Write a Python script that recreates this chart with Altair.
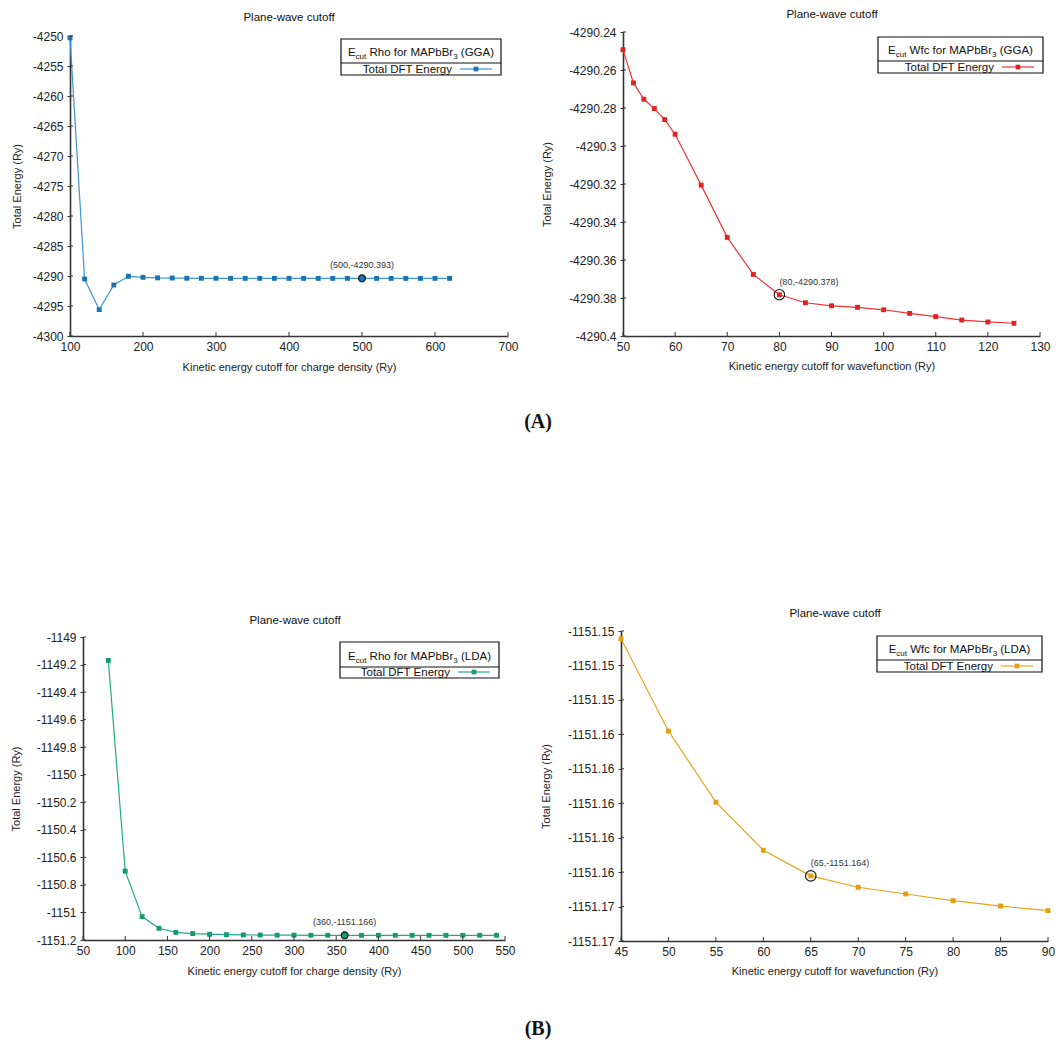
import altair as alt
import pandas as pd

W, H = 1064, 1042
SANS = "Liberation Sans"
SERIF = "Liberation Serif"
FS = 11.5      # titles and legend text
TICK_FS = 12   # tick labels
AXT_FS = 11    # axis titles
SUB = 8
INK = "#222222"
AXIS_INK = "#333333"

# ---------------- data ----------------
# GGA: charge-density cutoff scan
rho_gga_cut = [100, 120, 140, 160, 180, 200, 220, 240, 260, 280, 300, 320, 340, 360,
               380, 400, 420, 440, 460, 480, 500, 520, 540, 560, 580, 600, 620]
rho_gga_energy = [-4250.3, -4290.5, -4295.6, -4291.5, -4290.05, -4290.22, -4290.31,
                  -4290.34, -4290.37, -4290.38, -4290.385, -4290.388, -4290.390,
                  -4290.391, -4290.392, -4290.392, -4290.393, -4290.393, -4290.393,
                  -4290.393, -4290.393, -4290.393, -4290.393, -4290.393, -4290.393,
                  -4290.393, -4290.393]

# GGA: wavefunction cutoff scan
wfc_gga_cut = [50, 52, 54, 56, 58, 60, 65, 70, 75, 80, 85, 90, 95, 100, 105, 110, 115, 120, 125]
wfc_gga_energy = [-4290.2493, -4290.2668, -4290.2754, -4290.2803, -4290.2861, -4290.2938,
                  -4290.3206, -4290.3481, -4290.3676, -4290.3783, -4290.3825, -4290.3841,
                  -4290.3849, -4290.3862, -4290.3881, -4290.3898, -4290.3916, -4290.3926,
                  -4290.3933]

# LDA: charge-density cutoff scan
rho_lda_cut = [80, 100, 120, 140, 160, 180, 200, 220, 240, 260, 280, 300, 320, 340,
               360, 380, 400, 420, 440, 460, 480, 500, 520, 540]
rho_lda_energy = [-1149.17, -1150.70, -1151.03, -1151.115, -1151.145, -1151.153,
                  -1151.158, -1151.161, -1151.163, -1151.164, -1151.165, -1151.165,
                  -1151.166, -1151.166, -1151.166, -1151.166, -1151.166, -1151.166,
                  -1151.166, -1151.166, -1151.166, -1151.166, -1151.166, -1151.166]

# LDA: wavefunction cutoff scan
wfc_lda_cut = [45, 50, 55, 60, 65, 70, 75, 80, 85, 90]
wfc_lda_energy = [-1151.15045, -1151.15581, -1151.15994, -1151.16273, -1151.16422,
                  -1151.16488, -1151.16527, -1151.16566, -1151.16597, -1151.16624]

# converged cutoffs that get highlighted
rho_gga_pick, wfc_gga_pick, rho_lda_pick, wfc_lda_pick = 500, 80, 360, 65

# tick values
rho_gga_xticks = [100, 200, 300, 400, 500, 600, 700]
rho_gga_yticks = [-4300, -4295, -4290, -4285, -4280, -4275, -4270, -4265, -4260, -4255, -4250]
wfc_gga_xticks = [50, 60, 70, 80, 90, 100, 110, 120, 130]
wfc_gga_yticks = [-4290.4, -4290.38, -4290.36, -4290.34, -4290.32, -4290.3, -4290.28,
                  -4290.26, -4290.24]
rho_lda_xticks = [50, 100, 150, 200, 250, 300, 350, 400, 450, 500, 550]
rho_lda_yticks = [-1151.2, -1151.0, -1150.8, -1150.6, -1150.4, -1150.2, -1150.0,
                  -1149.8, -1149.6, -1149.4, -1149.2, -1149.0]
wfc_lda_xticks = [45, 50, 55, 60, 65, 70, 75, 80, 85, 90]
wfc_lda_yticks = [-1151.168, -1151.166, -1151.164, -1151.162, -1151.160, -1151.158,
                  -1151.156, -1151.154, -1151.152, -1151.150]

TITLE = "Plane-wave cutoff"
Y_TITLE = "Total Energy (Ry)"
LEGEND_ENTRY = "Total DFT Energy"

# gnuplot-style %g labels with a plain hyphen minus
LABEL_EXPR = "(datum.value < 0 ? '-' : '') + format(abs(datum.value), '.6~g')"

ARIAL = {" ": 278, "(": 333, ")": 333, "E": 667, "R": 722, "h": 556, "o": 556, "f": 278,
         "r": 333, "M": 833, "A": 667, "P": 667, "b": 556, "B": 667, "G": 778, "W": 944,
         "c": 500, "L": 556, "D": 722, "u": 556, "t": 278, "3": 556}


def text_width(s, size):
    return sum(ARIAL.get(ch, 556) for ch in s) * size / 1000.0


ONE = pd.DataFrame({"k": [0]})


def deco():
    return alt.Chart(ONE)


def legend(box, kind, xc, line_color, mark_color):
    x0, y0, x1, y1, ydiv = box
    layers = [
        deco().mark_rect(fill="white", stroke="#111111", strokeWidth=1.2).encode(
            x=alt.value(x0), x2=alt.value(x1), y=alt.value(y0), y2=alt.value(y1)),
        deco().mark_rule(color="#111111", strokeWidth=1.2).encode(
            x=alt.value(x0), x2=alt.value(x1), y=alt.value(ydiv)),
    ]
    pieces = [("E", FS, 0), ("cut", SUB, 3), (" ", FS, 0), (kind + " for MAPbBr", FS, 0),
              ("3", SUB, 3), (" ", FS, 0), ("(" + xc + ")", FS, 0)]
    total = sum(text_width(p[0], p[1]) for p in pieces)
    cx = (x0 + x1) / 2.0
    px = cx - total / 2.0
    base = ydiv - 7.5
    for txt, size, dy in pieces:
        if txt.strip():
            layers.append(deco().mark_text(
                text=txt, font=SANS, fontSize=size, align="left", baseline="alphabetic",
                color="#111111").encode(x=alt.value(px), y=alt.value(base + dy)))
        px += text_width(txt, size)
    layers.append(deco().mark_text(
        text=LEGEND_ENTRY, font=SANS, fontSize=FS, align="right", baseline="alphabetic",
        color="#111111").encode(x=alt.value(x1 - 49), y=alt.value(y1 - 2.2)))
    layers.append(deco().mark_rule(color=line_color, strokeWidth=1.2).encode(
        x=alt.value(x1 - 41), x2=alt.value(x1 - 9), y=alt.value(y1 - 6)))
    layers.append(deco().mark_square(color=mark_color, size=22, opacity=1).encode(
        x=alt.value(x1 - 25), y=alt.value(y1 - 6)))
    return layers


def panel(cut, energy, pick, xdom, xpix, ydom, ypix, xticks, yticks, xtitle,
          line_color, mark_color, hollow, label_align, title_pos, xtitle_dy, ytitle_x,
          legend_box, kind, xc):
    df = pd.DataFrame({"cut": cut, "energy": energy})
    axis_y = ypix[0]
    axis_x = xpix[0]
    xs = alt.Scale(domain=xdom, range=xpix, nice=False, zero=False)
    ys = alt.Scale(domain=ydom, range=ypix, nice=False, zero=False)
    xa = alt.Axis(orient="bottom", offset=axis_y - H, values=xticks, labelExpr=LABEL_EXPR,
                  grid=False, ticks=False, labelPadding=5,
                  domainColor=AXIS_INK, domainWidth=1.6,
                  labelFont=SANS, labelFontSize=TICK_FS, labelColor=INK,
                  labelOverlap=False, labelFlush=False,
                  title=xtitle, titleFont=SANS, titleFontSize=AXT_FS, titleFontWeight="normal",
                  titleColor=INK, titleY=xtitle_dy, titleBaseline="middle")
    ya = alt.Axis(orient="left", offset=-axis_x, values=yticks, labelExpr=LABEL_EXPR,
                  grid=False, ticks=True, tickSize=3, tickColor=AXIS_INK, tickWidth=1,
                  labelPadding=4, domainColor=AXIS_INK, domainWidth=1.6,
                  labelFont=SANS, labelFontSize=TICK_FS, labelColor=INK,
                  labelOverlap=False, labelFlush=False,
                  title=Y_TITLE, titleFont=SANS, titleFontSize=AXT_FS, titleFontWeight="normal",
                  titleColor=INK, titleX=ytitle_x - axis_x, titleBaseline="middle")
    X = alt.X("cut:Q", scale=xs, axis=xa)
    Y = alt.Y("energy:Q", scale=ys, axis=ya)
    Xn = alt.X("cut:Q", scale=xs, axis=None)
    Yn = alt.Y("energy:Q", scale=ys, axis=None)

    base = alt.Chart(df)
    line = base.mark_line(color=line_color, strokeWidth=1.2).encode(x=X, y=Y)
    pts = base.mark_square(color=mark_color, size=24, opacity=1).encode(x=Xn, y=Yn)

    pick_e = energy[cut.index(pick)]
    hl = pd.DataFrame({"cut": [pick], "energy": [pick_e],
                       "label": ["({},{:.3f})".format(pick, pick_e)]})
    if hollow:
        ring = alt.Chart(hl).mark_point(shape="circle", size=110, filled=False,
                                        color="#111111", strokeWidth=1.1, opacity=1
                                        ).encode(x=Xn, y=Yn)
    else:
        ring = alt.Chart(hl).mark_circle(size=48, color=mark_color, stroke="#111111",
                                         strokeWidth=1.1, opacity=1).encode(x=Xn, y=Yn)
    note = alt.Chart(hl).mark_text(font=SANS, fontSize=9, color="#333333", align=label_align,
                                   baseline="alphabetic", dy=-10).encode(
        x=Xn, y=Yn, text="label:N")

    xt = pd.DataFrame({"t": xticks})
    xtick_marks = alt.Chart(xt).mark_rule(color=AXIS_INK, strokeWidth=1).encode(
        x=alt.X("t:Q", scale=xs, axis=None), y=alt.value(axis_y), y2=alt.value(axis_y - 4))
    yt = pd.DataFrame({"t": yticks})
    ytick_marks = alt.Chart(yt).mark_rule(color=AXIS_INK, strokeWidth=1).encode(
        y=alt.Y("t:Q", scale=ys, axis=None), x=alt.value(axis_x), x2=alt.value(axis_x + 3))

    title = deco().mark_text(text=TITLE, font=SANS, fontSize=FS, color="#111111",
                             align="center", baseline="alphabetic").encode(
        x=alt.value(title_pos[0]), y=alt.value(title_pos[1]))

    # every layer carries its own copy of the panel scales, so the panels can sit
    # side by side inside one flat layer with independent scales
    return ([line, pts, ring, note, xtick_marks, ytick_marks, title]
            + legend(legend_box, kind, xc, line_color, mark_color))


layers = []
layers += panel(rho_gga_cut, rho_gga_energy, rho_gga_pick, [100, 700], [70, 508],
                [-4300, -4250], [336, 36], rho_gga_xticks, rho_gga_yticks,
                "Kinetic energy cutoff for charge density (Ry)",
                "#3a96d2", "#1d72b0", False, "center", (289, 21), 31, 17,
                (341, 39, 501, 75, 63), "Rho", "GGA")
layers += panel(wfc_gga_cut, wfc_gga_energy, wfc_gga_pick, [50, 130], [623, 1040],
                [-4290.4, -4290.24], [336, 32], wfc_gga_xticks, wfc_gga_yticks,
                "Kinetic energy cutoff for wavefunction (Ry)",
                "#f03434", "#e02222", True, "left", (832, 18), 30.5, 547,
                (878, 37, 1043, 73, 61), "Wfc", "GGA")
layers += panel(rho_lda_cut, rho_lda_energy, rho_lda_pick, [50, 550], [83, 505],
                [-1151.2, -1149.0], [940, 637], rho_lda_xticks, rho_lda_yticks,
                "Kinetic energy cutoff for charge density (Ry)",
                "#22aa84", "#179a72", False, "center", (295, 624), 31, 16,
                (340, 642, 499, 678, 667), "Rho", "LDA")
layers += panel(wfc_lda_cut, wfc_lda_energy, wfc_lda_pick, [45, 90], [621, 1048],
                [-1151.168, -1151.150], [941, 631], wfc_lda_xticks, wfc_lda_yticks,
                "Kinetic energy cutoff for wavefunction (Ry)",
                "#e9a51c", "#e09e10", True, "left", (835, 617), 30.5, 546,
                (877, 636, 1042, 672, 660), "Wfc", "LDA")

for tag, yb in (("(A)", 428), ("(B)", 1035)):
    layers.append(deco().mark_text(text=tag, font=SERIF, fontSize=20, fontWeight="bold",
                                   color="#111111", align="center", baseline="alphabetic"
                                   ).encode(x=alt.value(538), y=alt.value(yb)))

chart = alt.layer(*layers).resolve_scale(x="independent", y="independent").properties(
    width=W, height=H, padding=0, background="white",
    autosize=alt.AutoSizeParams(type="none"),
).configure_view(strokeWidth=0)

chart.save("out.html", embed_options={"renderer": "svg", "actions": False})
